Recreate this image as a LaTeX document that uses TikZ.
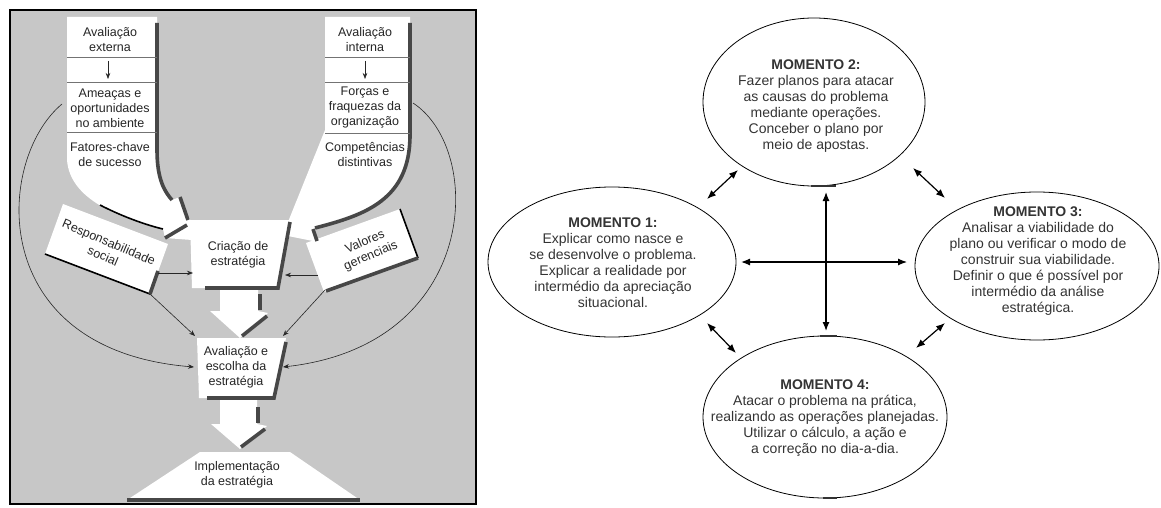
\documentclass[tikz,border=0pt]{standalone}
\usepackage{fontspec}
\setmainfont{Liberation Sans}
\usetikzlibrary{shapes.geometric,arrows.meta}
\begin{document}
\begin{tikzpicture}[x=1pt,y=-1pt,
  lbl/.style={font=\fontsize{12.5}{15}\selectfont, align=center, inner sep=0pt, text=black!85},
  mtxt/.style={font=\fontsize{14}{16}\selectfont, align=center, inner sep=0pt, text=black!80},
  shadebar/.style={line width=3.6pt, draw=black!72},
  blackedge/.style={line width=1.6pt, draw=black},
  divline/.style={line width=0.8pt, draw=black!55},
  larr/.style={-{Stealth[length=6pt,width=4.5pt]}, line width=0.6pt, draw=black!85},
  marr/.style={{Latex[length=9pt,width=7pt]}-{Latex[length=9pt,width=7pt]}, line width=1.2pt},
  mom/.style={draw, ellipse, line width=0.8pt, inner sep=0pt},
  thickmark/.style={line width=2pt, draw=black!80}
]
\useasboundingbox (0,0) rectangle (1161,508);

% ---------------- left panel ----------------
\fill[black!22] (10,10) rectangle (476,504);

% external column + funnel
\fill[white] (67,17) -- (157,17) -- (157,150) .. controls (157,180) and (165,192) .. (172,200)
  -- (180,197) -- (192,224) -- (192,240) -- (165,238) -- (163,229)
  .. controls (120,218) and (70,200) .. (67,160) -- cycle;
% internal column + funnel
\fill[white] (325,17) -- (410,17) -- (410,135) .. controls (410,200) and (365,215) .. (315,228)
  -- (318,242) -- (288,236) -- (288,222) -- (325,130) -- cycle;

% Responsabilidade social box
\fill[white] (63,204) -- (168,244) -- (150,294) -- (45,254) -- cycle;
\draw[blackedge] (45,254) -- (150,294);
\draw[shadebar] (150,294) -- (158,271);
% Valores gerenciais box
\fill[white] (306,243) -- (400,209) -- (418,258) -- (324,292) -- cycle;
\draw[blackedge] (400,209) -- (418,258);
\draw[shadebar] (418,258) -- (326,291);

% Criacao box
\fill[white] (190,220) -- (290,220) -- (278,288) -- (192,288) -- cycle;
% arrow 1
\fill[white] (220,286) -- (258,286) -- (258,311) -- (268,313) -- (240,338) -- (210,311) -- (220,311) -- cycle;
% Avaliacao box
\fill[white] (197,338) -- (286,338) -- (274,398) -- (199,398) -- cycle;
% arrow 2
\fill[white] (220,396) -- (257,396) -- (257,424) -- (267,426) -- (240,449) -- (211,424) -- (220,424) -- cycle;
% Implementacao trapezoid
\fill[white] (200,452) -- (290,452) -- (360,500) -- (127,500) -- cycle;

% dark edges
\draw[shadebar] (157,23) -- (157,150) .. controls (157,180) and (165,192) .. (172,200);
\draw[shadebar] (180,197) -- (188,220);
\draw[shadebar] (165,238) -- (187,225);
\draw[blackedge] (100,205) .. controls (125,218) and (150,226) .. (163,229);
\draw[shadebar] (410,23) -- (410,135) .. controls (410,200) and (365,215) .. (315,228);
\draw[shadebar] (313,229) -- (317,241);
\draw[shadebar] (290,222) -- (278,288) -- (205,288);
\draw[shadebar] (260,294) -- (260,310);
\draw[shadebar] (267,316) -- (242,336);
\draw[shadebar] (286,342) -- (274,398) -- (207,398);
\draw[shadebar] (258,407) -- (258,423);
\draw[shadebar] (265,429) -- (241,447);
\draw[shadebar] (127,500) -- (360,500);

% column dividers
\draw[divline] (67,57) -- (157,57);
\draw[divline] (67,82) -- (157,82);
\draw[divline] (67,132) -- (157,132);
\draw[divline] (325,57) -- (410,57);
\draw[divline] (325,82) -- (410,82);
\draw[divline] (325,133) -- (410,133);

% texts left
\node[lbl] (ae) at (110,40) {Avaliação\\externa};
\node[lbl] (am) at (110,108) {Ameaças e\\oportunidades\\no ambiente};
\node[lbl] (fc) at (110,155) {Fatores-chave\\de sucesso};
\node[lbl] (ai) at (365,40) {Avaliação\\interna};
\node[lbl] (ff) at (365,108) {Forças e\\fraquezas da\\organização};
\node[lbl] (cd) at (365,155) {Competências\\distintivas};
\node[lbl] (cri) at (238,255) {Criação de\\estratégia};
\node[lbl] (ava) at (236,367) {Avaliação e\\escolha da\\estratégia};
\node[lbl] (imp) at (237,475) {Implementação\\da estratégia};
\node[lbl, rotate=-23] (rs) at (106,249) {Responsabilidade\\social};
\node[lbl, rotate=23] (vg) at (368,249) {Valores\\gerenciais};

% connector coordinates (left)
\coordinate (aeA) at (108,61);
\coordinate (amA) at (108,79);
\coordinate (aiA) at (365,61);
\coordinate (ffA) at (365,79);
\coordinate (rsOut1) at (158,273);
\coordinate (criIn1) at (193,273);
\coordinate (rsOut2) at (150,294);
\coordinate (avaIn1) at (195,336);
\coordinate (vgOut1) at (318,275);
\coordinate (criIn2) at (285,275);
\coordinate (vgOut2) at (325,290);
\coordinate (avaIn2) at (283,336);
\coordinate (amOut) at (62,104);
\coordinate (avaIn3) at (194,367);
\coordinate (ffOut) at (413,103);
\coordinate (avaIn4) at (283,367);

\draw[larr] (aeA) -- (amA);
\draw[larr] (aiA) -- (ffA);
\draw[larr] (rsOut1) -- (criIn1);
\draw[larr] (rsOut2) -- (avaIn1);
\draw[larr] (vgOut1) -- (criIn2);
\draw[larr] (vgOut2) -- (avaIn2);
\draw[larr] (amOut) .. controls (-5,160) and (-15,350) .. (avaIn3);
\draw[larr] (ffOut) .. controls (485,150) and (480,345) .. (avaIn4);

% frame
\draw[line width=2.5pt] (10,10) rectangle (476,504);

% ---------------- right panel ----------------
\node[mom, minimum width=222pt, minimum height=168pt] (m2) at (814,102) {};
\node[mom, minimum width=248pt, minimum height=150pt] (m1) at (612,262) {};
\node[mom, minimum width=244pt, minimum height=148pt] (m3) at (1037,266) {};
\node[mom, minimum width=244pt, minimum height=162pt] (m4) at (825,417) {};

\node[mtxt] (t2) at (816,106) {\textbf{MOMENTO 2:}\\Fazer planos para atacar\\as causas do problema\\mediante operações.\\Conceber o plano por\\meio de apostas.};
\node[mtxt] (t1) at (613,263) {\textbf{MOMENTO 1:}\\Explicar como nasce e\\se desenvolve o problema.\\Explicar a realidade por\\intermédio da apreciação\\situacional.};
\node[mtxt] (t3) at (1038,261) {\textbf{MOMENTO 3:}\\Analisar a viabilidade do\\plano ou verificar o modo de\\construir sua viabilidade.\\Definir o que é possível por\\intermédio da análise\\estratégica.};
\node[mtxt] (t4) at (825,418) {\textbf{MOMENTO 4:}\\Atacar o problema na prática,\\realizando as operações planejadas.\\Utilizar o cálculo, a ação e\\a correção no dia-a-dia.};

\draw[thickmark] (811,186) -- (836,186);
\draw[thickmark] (820,336) -- (837,336);
\draw[thickmark] (823,498) -- (837,498);

\coordinate (vTop) at (826,192);
\coordinate (vBot) at (826,331);
\coordinate (hL) at (741,262);
\coordinate (hR) at (907,262);
\coordinate (d12a) at (707,199);
\coordinate (d12b) at (738,170);
\coordinate (d23a) at (913,168);
\coordinate (d23b) at (945,198);
\coordinate (d34a) at (945,323);
\coordinate (d34b) at (916,348);
\coordinate (d14a) at (707,323);
\coordinate (d14b) at (736,353);

\draw[marr] (vTop) -- (vBot);
\draw[marr] (hL) -- (hR);
\draw[marr] (d12a) -- (d12b);
\draw[marr] (d23a) -- (d23b);
\draw[marr] (d34a) -- (d34b);
\draw[marr] (d14a) -- (d14b);
\end{tikzpicture}
\end{document}
